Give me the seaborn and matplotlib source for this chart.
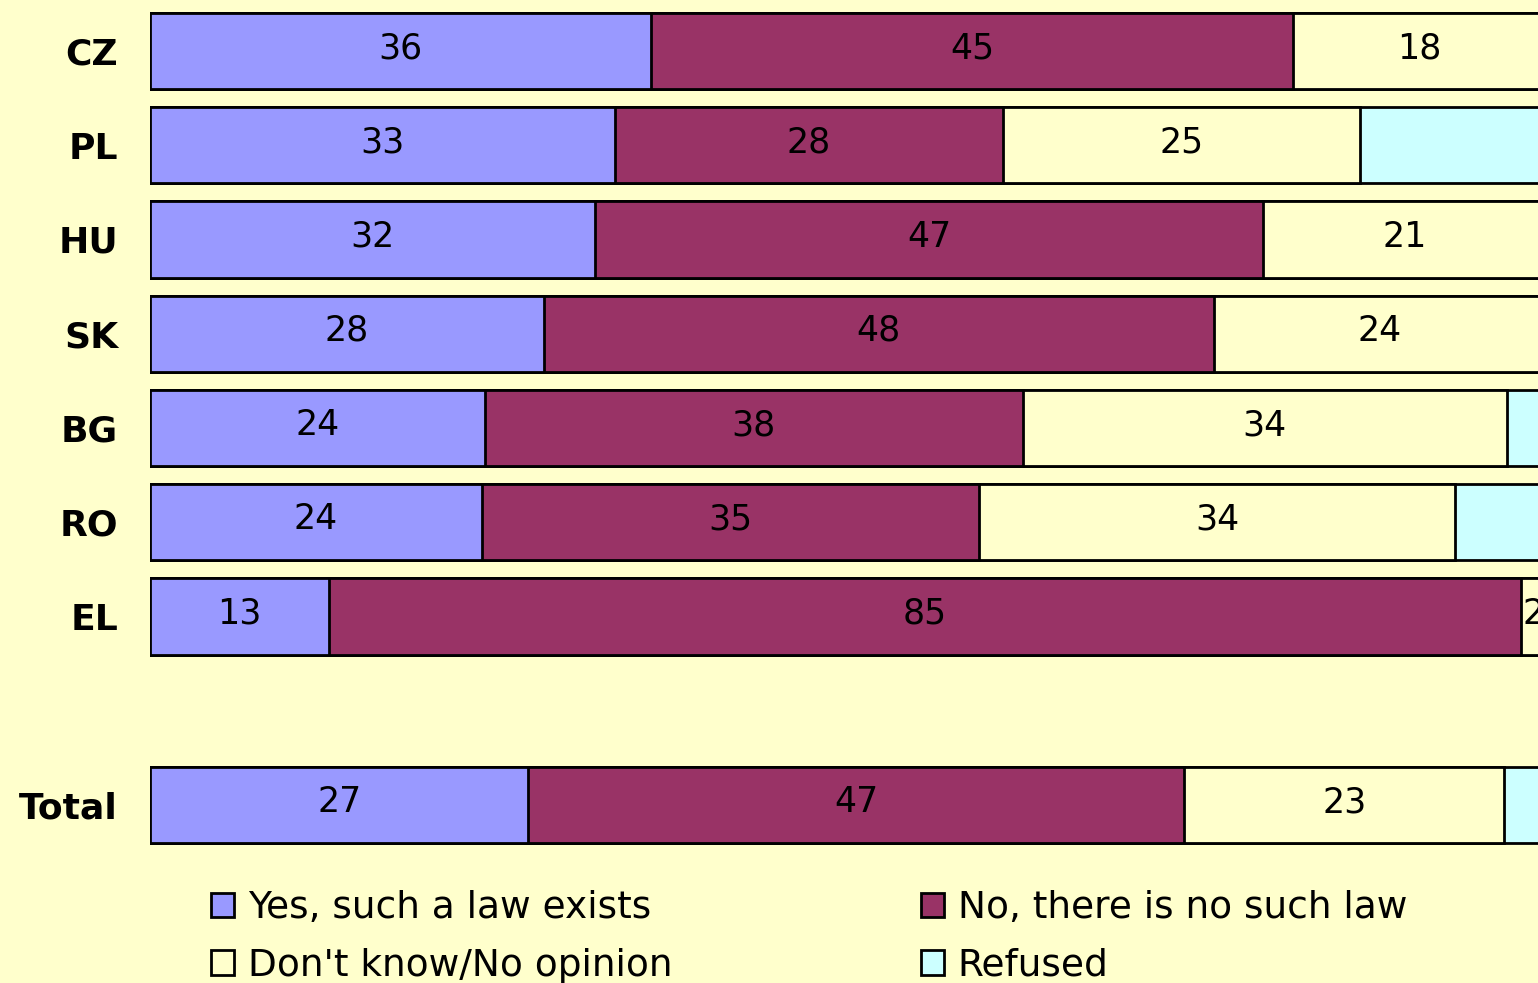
import pandas as pd
import matplotlib.pyplot as plt
import seaborn as sns
from matplotlib.patches import Patch

countries = ['CZ', 'PL', 'HU', 'SK', 'BG', 'RO', 'EL', 'Total']
order = ['CZ', 'PL', 'HU', 'SK', 'BG', 'RO', 'EL', ' ', 'Total']

series = ['Yes, such a law exists', 'No, there is no such law',
          "Don't know/No opinion", 'Refused']
colors = ['#9999FF', '#993366', '#FFFFCC', '#CCFFFF']

# bar lengths (%) as drawn
yes_vals = [35.9, 33.3, 31.9, 28.2, 24.0, 23.8, 12.8, 27.1]
no_vals = [46.0, 27.8, 47.8, 48.0, 38.5, 35.6, 85.4, 47.0]
dk_vals = [18.1, 25.6, 20.3, 23.8, 34.7, 34.1, 1.8, 22.9]
ref_vals = [0.0, 13.3, 0.0, 0.0, 2.8, 6.5, 0.0, 3.0]

# printed labels
yes_lbl = [36, 33, 32, 28, 24, 24, 13, 27]
no_lbl = [45, 28, 47, 48, 38, 35, 85, 47]
dk_lbl = [18, 25, 21, 24, 34, 34, 2, 23]

bg = '#FFFFCC'
plt.rcParams['font.family'] = ['DejaVu Sans']

df = pd.DataFrame({'country': countries, 'yes': yes_vals, 'no': no_vals,
                   'dk': dk_vals, 'ref': ref_vals})
df['c1'] = df['yes']
df['c2'] = df['c1'] + df['no']
df['c3'] = df['c2'] + df['dk']
df['c4'] = df['c3'] + df['ref']

fig = plt.figure(figsize=(15.38, 9.83), dpi=100, facecolor=bg)
ax = fig.add_axes([150 / 1538, 113 / 983, 1388 / 1538, 870 / 983])
ax.set_facecolor(bg)

# stacked bars: draw cumulative totals from back to front
for col, color in zip(['c4', 'c3', 'c2', 'c1'], colors[::-1]):
    sns.barplot(data=df, x=col, y='country', order=order, color=color,
                edgecolor='black', linewidth=2, width=0.81, errorbar=None,
                saturation=1, ax=ax)

pos = {c: order.index(c) for c in countries}
for i, c in enumerate(countries):
    starts = [0, df['c1'][i], df['c2'][i]]
    widths = [yes_vals[i], no_vals[i], dk_vals[i]]
    labels = [yes_lbl[i], no_lbl[i], dk_lbl[i]]
    for s, w, l in zip(starts, widths, labels):
        ax.text(s + w / 2, pos[c] - 0.03, str(l), ha='center', va='center',
                fontsize=25, color='black')

ax.set_xlim(0, 1388 / 13.96)
ax.set_ylim(8.69, -0.541)
ax.set_xlabel(None)
ax.set_ylabel(None)
ax.set_xticks([])
ax.tick_params(axis='y', length=0, pad=23)
for lab in ax.get_yticklabels():
    lab.set_fontsize(26)
    lab.set_fontweight('bold')
for sp in ax.spines.values():
    sp.set_visible(False)

# legend in two columns
handles = [Patch(facecolor=c, edgecolor='black', linewidth=2) for c in colors]
leg_kw = dict(loc='upper left', frameon=False, fontsize=27, borderpad=0,
              borderaxespad=0, handlelength=0.62, handleheight=0.62,
              handletextpad=0.36, labelspacing=0.58)
leg1 = fig.legend([handles[0], handles[2]], [series[0], series[2]],
                  bbox_to_anchor=(211 / 1538, 1 - 890 / 983), **leg_kw)
leg2 = fig.legend([handles[1], handles[3]], [series[1], series[3]],
                  bbox_to_anchor=(921 / 1538, 1 - 890 / 983), **leg_kw)

fig.savefig('out.png', dpi=100, facecolor=bg)
